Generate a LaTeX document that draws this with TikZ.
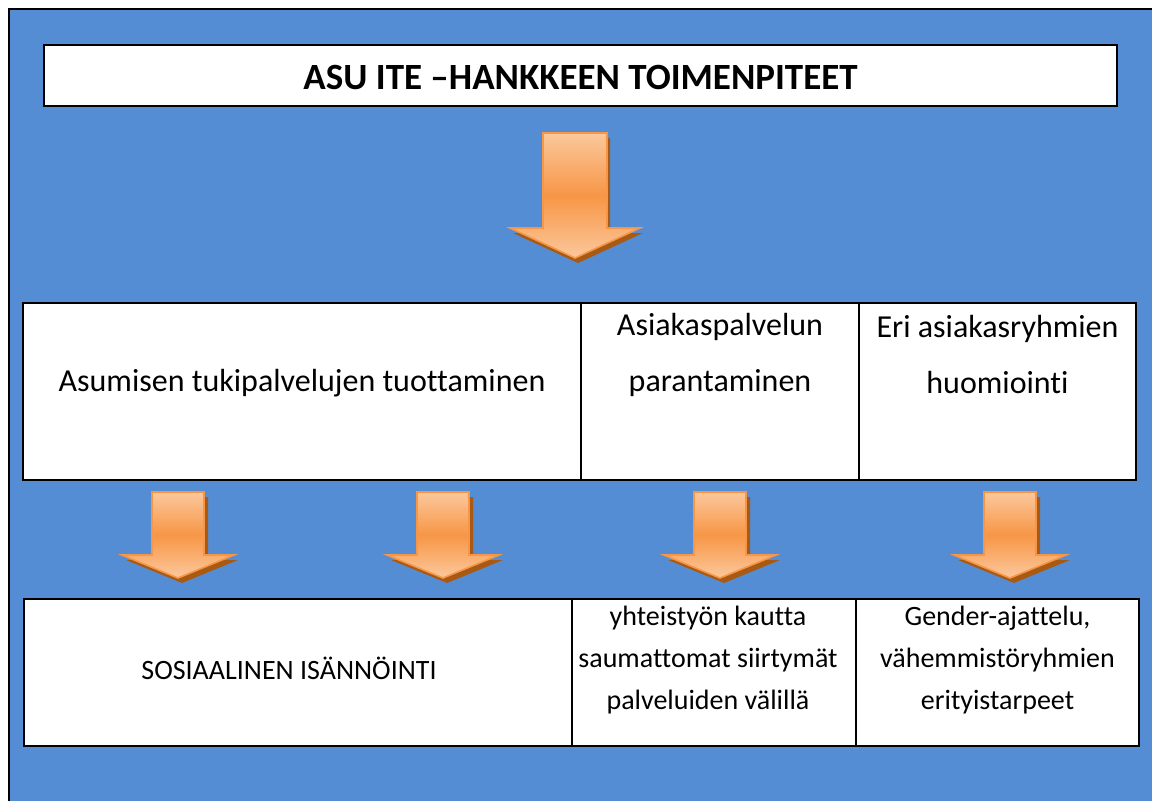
\documentclass[tikz,border=0pt]{standalone}
\usepackage{fontspec}
\setmainfont{Carlito}[Ligatures=NoCommon]
\definecolor{bg}{HTML}{548DD4}
\definecolor{arrowlight}{HTML}{FBC89C}
\definecolor{arrowmid}{HTML}{F79646}
\definecolor{arrowline}{HTML}{F79646}
\definecolor{arrowshadow}{HTML}{A85A14}
\tikzset{
  cell/.style={draw=black, line width=2pt, fill=white, anchor=north west, inner sep=0pt, outer sep=0pt},
  txtbig/.style={font=\fontsize{32}{56}\selectfont, align=center, inner sep=0pt},
  txtsmall/.style={font=\fontsize{28}{42}\selectfont, align=center, inner sep=0pt},
  arrowbody/.style={draw=arrowline, line width=1.6pt, line join=miter, top color=arrowlight, bottom color=arrowlight, middle color=arrowmid},
  arrowshade/.style={fill=arrowshadow}
}
% #1 centre x, #2 top y, #3 half shaft, #4 half head, #5 head base y, #6 tip y, #7 shadow dx, #8 shadow dy
\newcommand\blkarrow[8]{%
  \fill[arrowshade] (#1-#3+#7,#2+#8) -- (#1+#3+#7,#2+#8) -- (#1+#3+#7,#5+#8) -- (#1+#4+#7,#5+#8) -- (#1+#7,#6+#8) -- (#1-#4+#7,#5+#8) -- (#1-#3+#7,#5+#8) -- cycle;
  \path[arrowbody] (#1-#3,#2) -- (#1+#3,#2) -- (#1+#3,#5) -- (#1+#4,#5) -- (#1,#6) -- (#1-#4,#5) -- (#1-#3,#5) -- cycle;
}
\begin{document}
\begin{tikzpicture}[x=1pt,y=-1pt]
\useasboundingbox (0,0) rectangle (1152,801);
\fill[white] (0,0) rectangle (1152,801);
\fill[bg] (9,9) rectangle (1152,801);
\draw[black, line width=2.5pt] (1152,9) -- (9,9) -- (9,801);

% title
\node[cell, minimum width=1073pt, minimum height=61pt] (title) at (44,45) {};
\node[font=\fontsize{37}{44}\selectfont\bfseries, inner sep=0pt] (titletext) at (580.5,78) {ASU ITE –HANKKEEN TOIMENPITEET};

% big arrow
\blkarrow{575}{133}{32}{65}{228}{258}{3}{5}

% row 2
\node[cell, minimum width=558pt, minimum height=177pt] (r2a) at (23,303) {};
\node[cell, minimum width=278pt, minimum height=177pt] (r2b) at (581,303) {};
\node[cell, minimum width=277pt, minimum height=177pt] (r2c) at (859,303) {};
\node[txtbig] (t2a) at (302,383) {Asumisen tukipalvelujen tuottaminen};
\node[txtbig] (t2b) at (720,355) {Asiakaspalvelun\\parantaminen};
\node[txtbig] (t2c) at (997.5,355) {Eri asiakasryhmien\\huomiointi};

% small arrows
\blkarrow{178}{492}{26}{56}{555}{578}{4}{5}
\blkarrow{443}{492}{26}{56}{555}{578}{4}{5}
\blkarrow{720}{492}{26}{56}{555}{578}{4}{5}
\blkarrow{1010}{492}{26}{56}{555}{578}{4}{5}

% row 3
\node[cell, minimum width=548pt, minimum height=147pt] (r3a) at (24,599) {};
\node[cell, minimum width=284pt, minimum height=147pt] (r3b) at (572,599) {};
\node[cell, minimum width=283pt, minimum height=147pt] (r3c) at (856,599) {};
\node[txtsmall] (t3a) at (289,668) {SOSIAALINEN ISÄNNÖINTI};
\node[txtsmall] (t3b) at (708,660) {yhteistyön kautta\\saumattomat siirtymät\\palveluiden välillä};
\node[txtsmall] (t3c) at (997.5,660) {Gender-ajattelu,\\vähemmistöryhmien\\erityistarpeet};
\end{tikzpicture}
\end{document}
